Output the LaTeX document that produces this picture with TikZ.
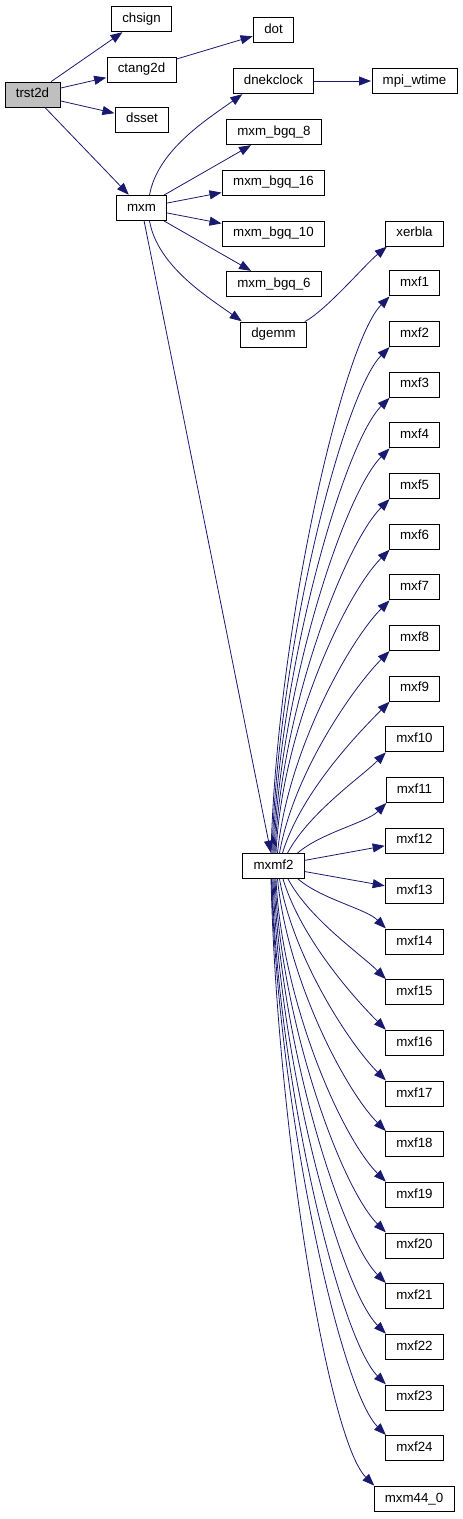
\documentclass[tikz,border=0pt]{standalone}
\usepackage{fontspec}
\setmainfont{Liberation Sans}
\usetikzlibrary{arrows.meta}
\definecolor{edgeblue}{HTML}{191970}
\begin{document}
\begin{tikzpicture}[x=1pt,y=1pt,
  box/.style={draw=black, line width=0.8pt, fill=white, minimum height=25pt,
    inner xsep=10.8pt, inner ysep=0pt, font=\fontsize{13.3}{15}\selectfont,
    text height=9.5pt, text depth=2.8pt},
  edge/.style={draw=edgeblue, line width=0.8pt,
    -{Triangle[length=12pt,width=9pt]}, shorten >=0.5pt}]
\useasboundingbox (0,0) rectangle (463,-1519);
\node[box, fill=black!25] (trst2d) at (32.5,-94.5) {trst2d};
\node[box] (chsign) at (141.5,-19) {chsign};
\node[box] (ctang2d) at (141.5,-69.5) {ctang2d};
\node[box] (dsset) at (142,-119.5) {dsset};
\node[box] (mxm) at (141.5,-208) {mxm};
\node[box] (dot) at (273.5,-30) {dot};
\node[box] (dnekclock) at (273.5,-81) {dnekclock};
\node[box] (bgq8) at (274,-132) {mxm\_bgq\_8};
\node[box] (bgq16) at (273.5,-182.5) {mxm\_bgq\_16};
\node[box] (bgq10) at (273.5,-233.5) {mxm\_bgq\_10};
\node[box] (bgq6) at (274,-284) {mxm\_bgq\_6};
\node[box] (dgemm) at (273.5,-334.5) {dgemm};
\node[box] (mpiwtime) at (414.5,-81) {mpi\_wtime};
\node[box] (xerbla) at (414.5,-233.5) {xerbla};
\foreach \k in {1,...,24} \node[box] (mxf\k) at (414.5,{-(232.6+50.65*\k)}) {mxf\k};
\node[box] (mxm44) at (414,-1498.9) {mxm44\_0};
\node[box] (mxmf2) at (273.5,-866) {mxmf2};

\draw[edge] (trst2d) -- (chsign);
\draw[edge] (trst2d) -- (ctang2d);
\draw[edge] (trst2d) -- (dsset);
\draw[edge] (trst2d) -- (mxm);
\draw[edge] (ctang2d) -- (dot);
\draw[edge] (dnekclock) -- (mpiwtime);
\draw[edge] ([xshift=8pt]mxm.north) .. controls +(8,45) and +(-35,-25) .. ([xshift=10pt]dnekclock.south west);
\draw[edge] (mxm) -- (bgq8);
\draw[edge] (mxm) -- (bgq16);
\draw[edge] (mxm) -- (bgq10);
\draw[edge] (mxm) -- (bgq6);
\draw[edge] ([xshift=8pt]mxm.south) .. controls +(8,-45) and +(-35,25) .. ([xshift=2pt]dgemm.north west);
\draw[edge] (mxm) -- (mxmf2);
\draw[edge] ([xshift=-2pt]dgemm.north east) .. controls +(22,12) and +(-22,-18) .. ([xshift=2pt]xerbla.south west);

\foreach \k/\off in {1/-2.5,2/-1.5,3/-0.5,4/0.5,5/1.5,6/2.5,7/4,8/6,9/9,10/14,11/24}{
  \pgfmathsetmacro\fdy{853.5-(245.1+50.65*\k)}
  \pgfmathsetmacro\fdx{389-(273.5+\off)}
  \pgfmathsetmacro\fcx{0.05*\fdx+0.25*\fdx*(1-min(\fdy,300)/300)}
  \pgfmathsetmacro\fcy{0.4*\fdy}
  \pgfmathsetmacro\fa{min(0.4*\fdx,0.1*\fdy+15)}
  \draw[edge] ([xshift=\off pt]mxmf2.north) .. controls +(\fcx,\fcy) and +(-\fa,-\fa) .. ([xshift=1pt]mxf\k.south west);
}
\draw[edge] (mxmf2) -- (mxf12);
\draw[edge] (mxmf2) -- (mxf13);
\foreach \t/\k/\off in {mxf14/14/24.5,mxf15/15/14.5,mxf16/16/9.5,mxf17/17/6,mxf18/18/4,mxf19/19/2.5,mxf20/20/1.5,mxf21/21/0.5,mxf22/22/-0.5,mxf23/23/-1.5,mxf24/24/-2,mxm44/25/-2.5}{
  \pgfmathsetmacro\fdy{220.1+50.65*\k-878.5}
  \pgfmathsetmacro\fdx{389-(273.5+\off)}
  \pgfmathsetmacro\fcx{0.05*\fdx+0.25*\fdx*(1-min(\fdy,300)/300)}
  \pgfmathsetmacro\fcy{0.4*\fdy}
  \pgfmathsetmacro\fa{min(0.4*\fdx,0.1*\fdy+15)}
  \draw[edge] ([xshift=\off pt]mxmf2.south) .. controls +(\fcx,-\fcy) and +(-\fa,\fa) .. ([xshift=1pt]\t.north west);
}
\end{tikzpicture}
\end{document}
